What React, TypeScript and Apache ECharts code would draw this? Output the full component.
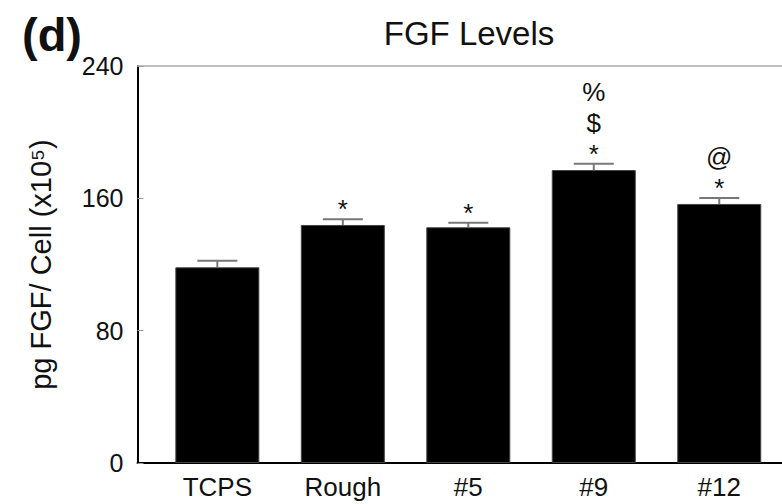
import React, { useEffect, useRef } from "react";
import * as echarts from "echarts";

const categories = ["TCPS", "Rough", "#5", "#9", "#12"];
const values = [118.3, 143.9, 142.5, 177.1, 156.6];
const errors = [4.0, 3.4, 2.8, 3.8, 3.6];
const annotations: string[][] = [[], ["*"], ["*"], ["*", "$", "%"], ["*", "@"]];
const yTicks = { min: 0, max: 240, interval: 80 };

const FONT = "'Liberation Sans', Arial, Helvetica, sans-serif";
const TXT = "#111";

export default function App() {
  const ref = useRef<HTMLDivElement>(null);
  useEffect(() => {
    if (!ref.current) return;
    const chart = echarts.init(ref.current, null, { renderer: "svg" });
    const plotTop = 66;
    const plotH = 397;
    chart.setOption({
      animation: false,
      backgroundColor: "#fff",
      textStyle: { fontFamily: FONT },
      graphic: [
        {
          type: "text",
          x: 469,
          y: 33,
          style: {
            text: "FGF Levels",
            font: `33px ${FONT}`,
            fill: TXT,
            textAlign: "center",
            textVerticalAlign: "middle",
          },
        },
        {
          type: "text",
          x: 22,
          y: 34,
          style: {
            text: "(d)",
            font: `bold 47px ${FONT}`,
            fill: TXT,
            textAlign: "left",
            textVerticalAlign: "middle",
          },
        },
      ],
      grid: [
        { left: 154.6, width: 628.75, top: plotTop, height: plotH },
        { left: 137.5, right: 0, top: plotTop, height: plotH },
      ],
      xAxis: [
        {
          type: "category",
          gridIndex: 0,
          data: categories,
          boundaryGap: true,
          axisLine: { show: false },
          axisTick: { show: false },
          axisLabel: { fontSize: 26, color: TXT, margin: 11, fontFamily: FONT },
        },
        {
          type: "value",
          gridIndex: 1,
          min: 0,
          max: 1,
          position: "bottom",
          axisLine: { show: true, lineStyle: { color: "#000", width: 2 } },
          axisTick: { show: false },
          axisLabel: { show: false },
          splitLine: { show: false },
        },
        {
          type: "value",
          gridIndex: 1,
          min: 0,
          max: 1,
          position: "top",
          axisLine: { show: true, lineStyle: { color: "#aaa", width: 1.5 } },
          axisTick: { show: false },
          axisLabel: { show: false },
          splitLine: { show: false },
        },
      ],
      yAxis: [
        {
          type: "value",
          gridIndex: 0,
          min: yTicks.min,
          max: yTicks.max,
          show: false,
        },
        {
          type: "value",
          gridIndex: 1,
          min: yTicks.min,
          max: yTicks.max,
          interval: yTicks.interval,
          axisLine: { show: true, lineStyle: { color: "#000", width: 2 } },
          axisTick: { show: true, inside: true, length: 6, lineStyle: { color: "#999", width: 1 } },
          axisLabel: {
            fontSize: 25,
            color: TXT,
            margin: 14,
            fontFamily: FONT,
            padding: [9, 0, 0, 0],
          },
          splitLine: { show: false },
          name: "pg FGF/ Cell (x10\u2075)",
          nameLocation: "middle",
          nameGap: 82,
          nameTextStyle: { fontSize: 29, color: TXT, fontFamily: FONT },
        },
      ],
      series: [
        {
          type: "bar",
          xAxisIndex: 0,
          yAxisIndex: 0,
          data: values,
          barWidth: 84,
          itemStyle: { color: "#000", borderColor: "#444", borderWidth: 1 },
        },
        {
          type: "custom",
          xAxisIndex: 0,
          yAxisIndex: 0,
          z: 5,
          encode: { x: 0, y: 1 },
          data: categories.map((_, i) => [i, values[i], errors[i]]),
          renderItem: (params: any, api: any) => {
            const idx = api.value(0);
            const v = api.value(1);
            const e = api.value(2);
            const base = api.coord([idx, v]);
            const top = api.coord([idx, v + e]);
            const half = 20;
            const children: any[] = [
              {
                type: "line",
                shape: { x1: base[0], y1: base[1], x2: top[0], y2: top[1] },
                style: { stroke: "#777", lineWidth: 2 },
              },
              {
                type: "line",
                shape: { x1: top[0] - half, y1: top[1], x2: top[0] + half, y2: top[1] },
                style: { stroke: "#777", lineWidth: 2 },
              },
            ];
            const marks = annotations[params.dataIndex] || [];
            marks.forEach((m, k) => {
              children.push({
                type: "text",
                x: top[0],
                y: top[1] - 10 - 31 * k,
                style: {
                  text: m,
                  font: `26px ${FONT}`,
                  fill: TXT,
                  textAlign: "center",
                  textVerticalAlign: "middle",
                },
              });
            });
            return { type: "group", children };
          },
        },
      ],
    });
    return () => chart.dispose();
  }, []);
  return (
    <div
      ref={ref}
      style={{ position: "fixed", left: 0, top: 0, width: 782, height: 504 }}
    />
  );
}
